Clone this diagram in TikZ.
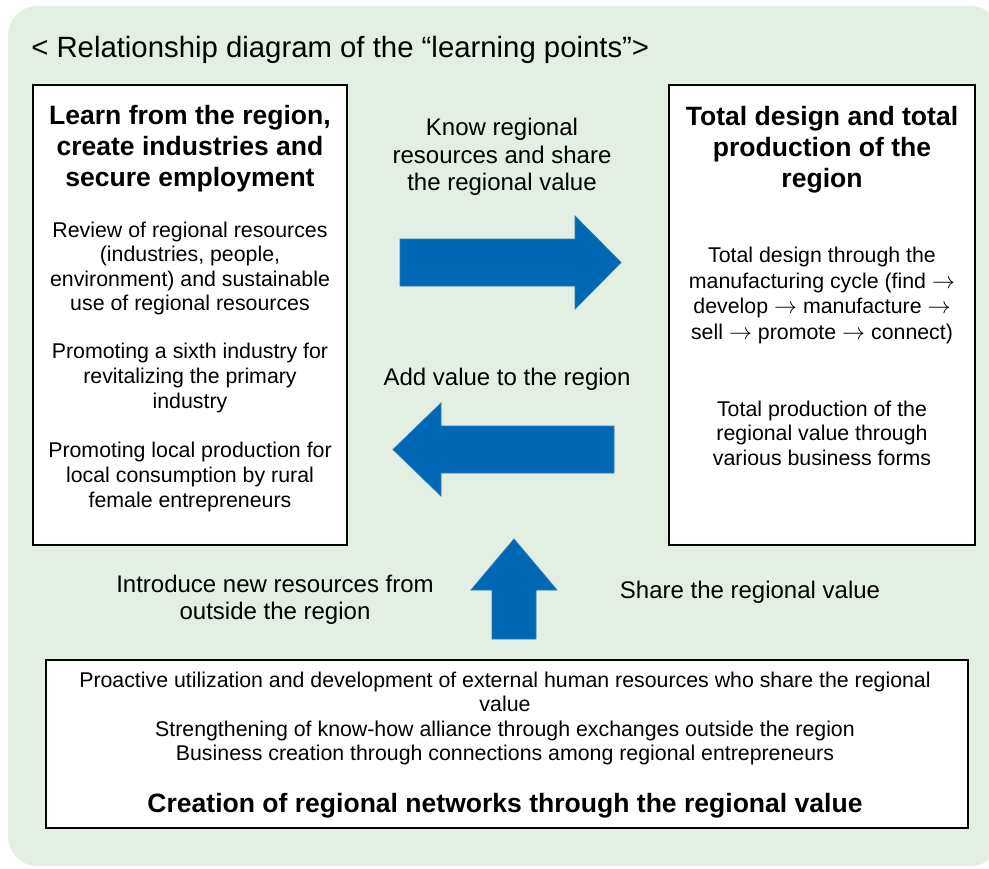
\documentclass[tikz,border=0pt]{standalone}
\usepackage{fontspec}
\setmainfont{Liberation Sans}
\definecolor{bggreen}{RGB}{226,239,226}
\definecolor{arrowblue}{RGB}{0,103,180}
\begin{document}
\begin{tikzpicture}[x=0.75pt,y=-0.75pt,
  box/.style={draw=black,line width=1.5pt,fill=white,inner sep=0pt},
  txtbody/.style={align=center,font=\fontsize{16}{18.4}\selectfont,inner sep=0pt},
  txthead/.style={align=center,font=\bfseries\fontsize{19.9}{23.2}\selectfont,inner sep=0pt},
  midlabel/.style={align=center,font=\fontsize{18}{20.6}\selectfont,inner sep=0pt},
  blockarrow/.style={fill=arrowblue,draw=arrowblue!85!white,line width=0.6pt}]
\useasboundingbox (0,0) rectangle (989,868);
\fill[bggreen,rounded corners=22pt] (8,6) rectangle (1000,866);

% title
\node[anchor=west,inner sep=0pt,font=\fontsize{22}{26}\selectfont] (title) at (31,50)
  {< Relationship diagram of the “learning points”>};

% boxes
\node[box,minimum width=235.5pt,minimum height=345pt] (left) at (190,315) {};
\node[box,minimum width=229.5pt,minimum height=345pt] (right) at (822,315) {};
\node[box,minimum width=691.5pt,minimum height=126pt] (bottom) at (507,744) {};

% left box texts
\node[txthead] (lhead) at (190,149) {Learn from the region,\\create industries and\\secure employment};
\node[txtbody] (l1) at (190,268.5) {Review of regional resources\\(industries, people,\\environment) and sustainable\\use of regional resources};
\node[txtbody] (l2) at (190,378) {Promoting a sixth industry for\\revitalizing the primary\\industry};
\node[txtbody] (l3) at (190,477) {Promoting local production for\\local consumption by rural\\female entrepreneurs};

% right box texts
\node[txthead] (rhead) at (822,150) {Total design and total\\production of the\\region};
\node[txtbody,font=\fontsize{16}{19.4}\selectfont] (r1) at (822,295.5) {Total design through the\\manufacturing cycle (find $\rightarrow$\\develop $\rightarrow$ manufacture $\rightarrow$\\sell $\rightarrow$ promote $\rightarrow$ connect)};
\node[txtbody] (r2) at (822,433) {Total production of the\\regional value through\\various business forms};

% bottom box texts
\node[txtbody] (b1) at (505,718.5) {Proactive utilization and development of external human resources who share the regional\\value\\Strengthening of know-how alliance through exchanges outside the region\\Business creation through connections among regional entrepreneurs};
\node[txthead] (bhead) at (505,806) {Creation of regional networks through the regional value};

% middle labels
\node[midlabel] (know) at (502,157) {Know regional\\resources and share\\the regional value};
\node[midlabel] (addv) at (507,379) {Add value to the region};
\node[midlabel] (intro) at (275,600) {Introduce new resources from\\outside the region};
\node[midlabel] (share) at (750,592) {Share the regional value};

% block arrows
\filldraw[blockarrow] (400,239) -- (575,239) -- (575,216) -- (621,262.5) -- (575,309) -- (575,286) -- (400,286) -- cycle;
\filldraw[blockarrow] (614,426) -- (441,426) -- (441,403) -- (393,449.5) -- (441,496) -- (441,473) -- (614,473) -- cycle;
\filldraw[blockarrow] (492,639) -- (492,590) -- (471,590) -- (514,539) -- (557,590) -- (536,590) -- (536,639) -- cycle;
\end{tikzpicture}
\end{document}
